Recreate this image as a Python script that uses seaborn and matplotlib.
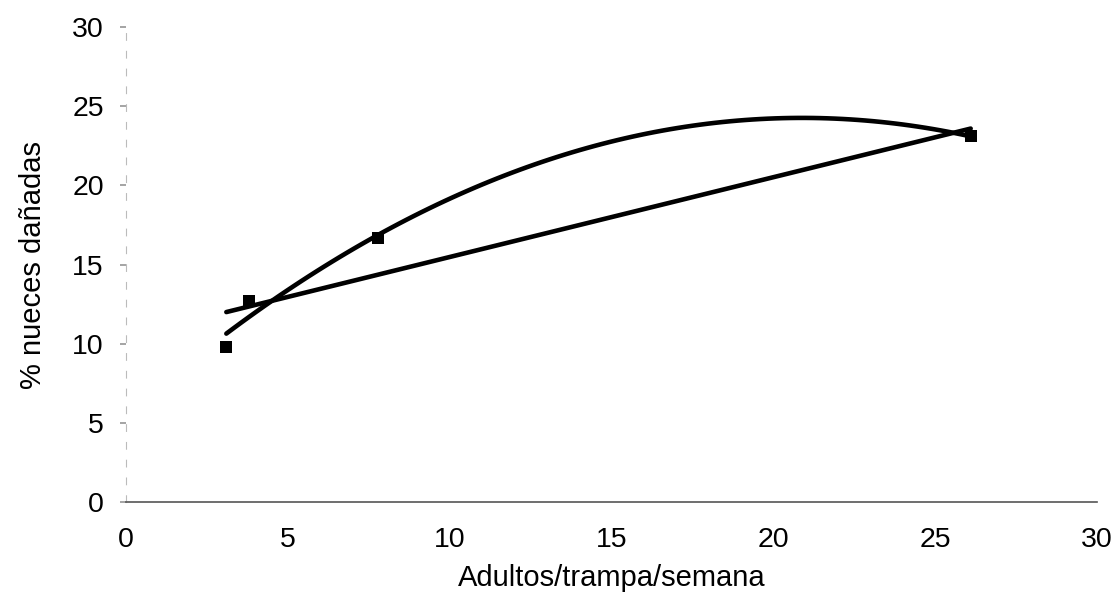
import matplotlib
matplotlib.use("Agg")
import matplotlib.pyplot as plt
import seaborn as sns
import pandas as pd

# Data
adultos = [3.1, 3.8, 7.8, 26.1]
danadas = [9.8, 12.7, 16.7, 23.1]
x_ticks = [0, 5, 10, 15, 20, 25, 30]
y_ticks = [0, 5, 10, 15, 20, 25, 30]

df = pd.DataFrame({"x": adultos, "y": danadas})

sns.set_theme(style="white")
plt.rcParams['font.family'] = ['Liberation Sans', 'DejaVu Sans']
plt.rcParams['text.color'] = 'black'
plt.rcParams['axes.labelcolor'] = 'black'
plt.rcParams['xtick.color'] = 'black'
plt.rcParams['ytick.color'] = 'black'

fig = plt.figure(figsize=(11.17, 6.01), dpi=100)
ax = fig.add_axes([0.1128, 0.1647, 0.982 - 0.1128, 0.955 - 0.1647])

sns.regplot(data=df, x="x", y="y", order=1, ci=None, ax=ax, color="black",
            marker="s", scatter_kws={"s": 80, "linewidths": 0, "alpha": 1},
            line_kws={"linewidth": 3.3})
sns.regplot(data=df, x="x", y="y", order=2, ci=None, ax=ax, color="black",
            scatter=False, line_kws={"linewidth": 3.3})

ax.set_xlim(0, 30)
ax.set_ylim(0, 30)
ax.set_xticks(x_ticks)
ax.set_yticks(y_ticks)
ax.set_xticklabels([str(t) for t in x_ticks], fontsize=20.5)
ax.set_yticklabels([str(t) for t in y_ticks], fontsize=20.5)
ax.tick_params(axis="x", length=0, pad=18)
ax.tick_params(axis="y", length=4, color="#999999", pad=12, left=True)
ax.set_xlabel("Adultos/trampa/semana", fontsize=21, labelpad=8)
ax.set_ylabel("% nueces dañadas", fontsize=21, labelpad=18)

for s in ["top", "right"]:
    ax.spines[s].set_visible(False)
ax.spines["left"].set_color("#bbbbbb")
ax.spines["left"].set_linewidth(0.8)
ax.spines["left"].set_linestyle((0, (6, 10)))
ax.spines["bottom"].set_color("#555555")
ax.spines["bottom"].set_linewidth(1.2)

fig.savefig("out.png", dpi=100, facecolor="white")
